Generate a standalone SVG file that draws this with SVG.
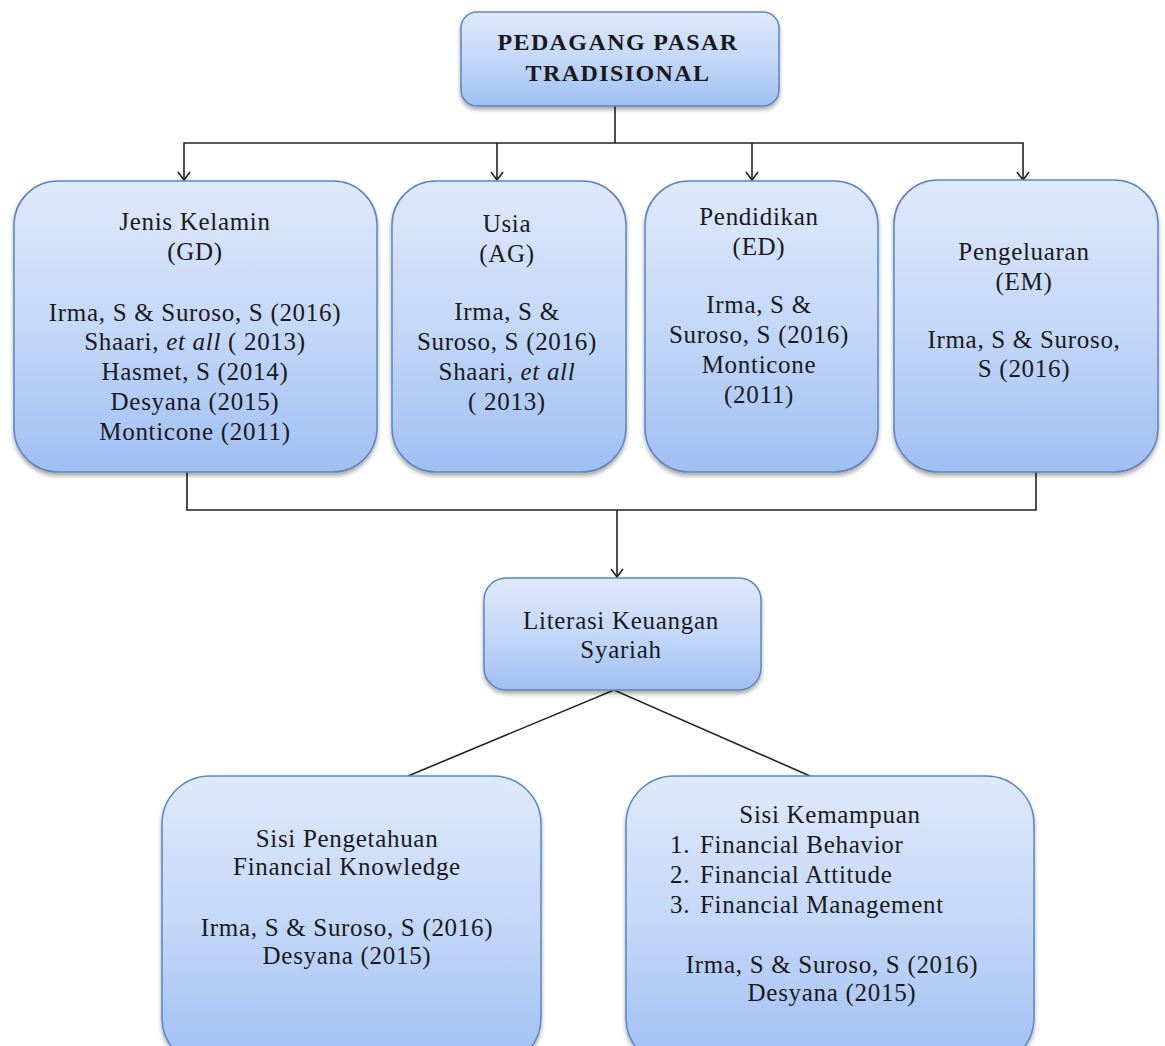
<svg xmlns="http://www.w3.org/2000/svg" width="1165" height="1046" viewBox="0 0 1165 1046">
<defs>
<linearGradient id="g" x1="0" y1="0" x2="0" y2="1">
<stop offset="0" stop-color="#dfe9fb"/>
<stop offset="0.5" stop-color="#c4d8f8"/>
<stop offset="1" stop-color="#9fbff3"/>
</linearGradient>
<filter id="sh" x="-10%" y="-10%" width="120%" height="125%">
<feGaussianBlur in="SourceAlpha" stdDeviation="2"/>
<feOffset dx="0" dy="3"/>
<feComponentTransfer><feFuncA type="linear" slope="0.35"/></feComponentTransfer>
<feMerge><feMergeNode/><feMergeNode in="SourceGraphic"/></feMerge>
</filter>
<marker id="arr" viewBox="0 0 14 14" refX="13" refY="7" markerWidth="14" markerHeight="14" markerUnits="userSpaceOnUse" orient="auto-start-reverse">
<path d="M5,1 L13,7 L5,13" fill="none" stroke="#222" stroke-width="1.6"/>
</marker>
</defs>
<style>
.box{fill:url(#g);stroke:#5a86c5;stroke-width:1.5;filter:url(#sh)}
.t{font-family:"Liberation Serif","Times New Roman",serif;font-size:25px;letter-spacing:0.7px;fill:#1a1a1a;text-anchor:middle}
.tb{font-weight:bold;font-size:24px;letter-spacing:1.4px}
.l{text-anchor:start}
.c{fill:none;stroke:#222;stroke-width:1.6}
</style>
<rect width="1165" height="1046" fill="#fff"/>
<g id="connectors">
<polyline class="c" points="615,106 615,143"/>
<polyline class="c" points="184,180 184,143 1023,143 1023,180" marker-start="url(#arr)" marker-end="url(#arr)"/>
<line class="c" x1="497" y1="143" x2="497" y2="180" marker-end="url(#arr)"/>
<line class="c" x1="752" y1="143" x2="752" y2="180" marker-end="url(#arr)"/>
<polyline class="c" points="187,472 187,510 1036,510 1036,472"/>
<line class="c" x1="617" y1="510" x2="617" y2="577" marker-end="url(#arr)"/>
<polyline class="c" points="408,776 614,690 810,776"/>
</g>
<g id="node-pedagang">
<rect class="box" x="461" y="12" width="318" height="94" rx="16"/>
<text class="t tb" x="618" y="50">PEDAGANG PASAR</text>
<text class="t tb" x="618" y="81">TRADISIONAL</text>
</g>
<g id="node-jenis-kelamin">
<rect class="box" x="14" y="181" width="363" height="291" rx="44"/>
<text class="t" x="195" y="230">Jenis Kelamin</text>
<text class="t" x="195" y="260">(GD)</text>
<text class="t" x="195" y="321">Irma, S &amp; Suroso, S (2016)</text>
<text class="t" x="195" y="350">Shaari, <tspan font-style="italic">et all</tspan> ( 2013)</text>
<text class="t" x="195" y="380">Hasmet, S (2014)</text>
<text class="t" x="195" y="410">Desyana (2015)</text>
<text class="t" x="195" y="440">Monticone (2011)</text>
</g>
<g id="node-usia">
<rect class="box" x="392" y="181" width="234" height="291" rx="44"/>
<text class="t" x="507" y="232">Usia</text>
<text class="t" x="507" y="262">(AG)</text>
<text class="t" x="507" y="320">Irma, S &amp;</text>
<text class="t" x="507" y="350">Suroso, S (2016)</text>
<text class="t" x="507" y="380">Shaari, <tspan font-style="italic">et all</tspan></text>
<text class="t" x="507" y="410">( 2013)</text>
</g>
<g id="node-pendidikan">
<rect class="box" x="645" y="181" width="233" height="291" rx="44"/>
<text class="t" x="759" y="225">Pendidikan</text>
<text class="t" x="759" y="255">(ED)</text>
<text class="t" x="759" y="313">Irma, S &amp;</text>
<text class="t" x="759" y="343">Suroso, S (2016)</text>
<text class="t" x="759" y="373">Monticone</text>
<text class="t" x="759" y="403">(2011)</text>
</g>
<g id="node-pengeluaran">
<rect class="box" x="894" y="180" width="264" height="292" rx="44"/>
<text class="t" x="1024" y="260">Pengeluaran</text>
<text class="t" x="1024" y="290">(EM)</text>
<text class="t" x="1024" y="348">Irma, S &amp; Suroso,</text>
<text class="t" x="1024" y="377">S (2016)</text>
</g>
<g id="node-literasi">
<rect class="box" x="484" y="578" width="277" height="112" rx="22"/>
<text class="t" x="621" y="629">Literasi Keuangan</text>
<text class="t" x="621" y="658">Syariah</text>
</g>
<g id="node-pengetahuan">
<rect class="box" x="162" y="776" width="379" height="290" rx="48"/>
<text class="t" x="347" y="847">Sisi Pengetahuan</text>
<text class="t" x="347" y="875">Financial Knowledge</text>
<text class="t" x="347" y="936">Irma, S &amp; Suroso, S (2016)</text>
<text class="t" x="347" y="964">Desyana (2015)</text>
</g>
<g id="node-kemampuan">
<rect class="box" x="626" y="776" width="408" height="290" rx="48"/>
<text class="t" x="830" y="823">Sisi Kemampuan</text>
<text class="t l" x="670" y="853">1.</text>
<text class="t l" x="700" y="853">Financial Behavior</text>
<text class="t l" x="670" y="883">2.</text>
<text class="t l" x="700" y="883">Financial Attitude</text>
<text class="t l" x="670" y="913">3.</text>
<text class="t l" x="700" y="913">Financial Management</text>
<text class="t" x="832" y="973">Irma, S &amp; Suroso, S (2016)</text>
<text class="t" x="832" y="1001">Desyana (2015)</text>
</g>
</svg>
